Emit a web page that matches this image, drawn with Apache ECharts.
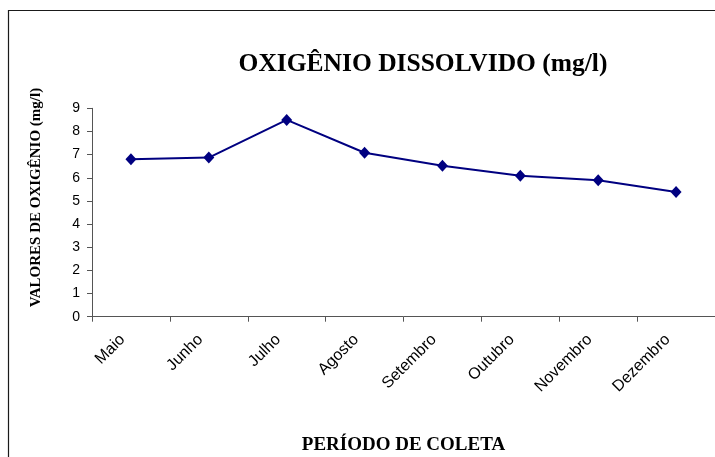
<!DOCTYPE html>
<html>
<head>
<meta charset="utf-8">
<script src="https://cdn.jsdelivr.net/npm/echarts@6/dist/echarts.min.js"></script>
<style>
html,body{margin:0;padding:0;background:#fff;}
#chart{width:715px;height:457px;}
</style>
</head>
<body>
<div id="chart"></div>
<script>
const categories = ["Maio", "Junho", "Julho", "Agosto", "Setembro", "Outubro", "Novembro", "Dezembro"];
const oxigenio = [6.8, 6.87, 8.5, 7.08, 6.52, 6.09, 5.89, 5.39];
const yTicks = [0, 1, 2, 3, 4, 5, 6, 7, 8, 9];
const chartTitle = "OXIGÊNIO DISSOLVIDO (mg/l)";
const yTitle = "VALORES DE OXIGÊNIO (mg/l)";
const xTitle = "PERÍODO DE COLETA";

const chart = echarts.init(document.getElementById('chart'), null, {renderer: 'canvas'});
chart.setOption({
  animation: false,
  backgroundColor: '#fff',
  graphic: [{
    type: 'rect',
    shape: {x: 8.5, y: 10.5, width: 800, height: 600},
    style: {fill: 'none', stroke: '#1a1a1a', lineWidth: 1.2},
    silent: true,
    z: -1
  }],
  title: {
    text: chartTitle,
    left: 418,
    top: 46,
    textAlign: 'center',
    textStyle: {
      fontFamily: 'Liberation Serif',
      fontWeight: 'bold',
      fontSize: 25.5,
      color: '#000'
    }
  },
  grid: {left: 92, top: 108.3, width: 627, height: 208.4},
  xAxis: {
    type: 'category',
    data: categories,
    boundaryGap: true,
    name: xTitle,
    nameLocation: 'middle',
    nameGap: 119,
    nameTextStyle: {fontFamily: 'Liberation Serif', fontWeight: 'bold', fontSize: 19, color: '#000'},
    axisLine: {lineStyle: {color: '#555', width: 1}},
    axisTick: {show: true, length: 5, inside: false, lineStyle: {color: '#555'}},
    axisLabel: {
      rotate: 45,
      margin: 12,
      padding: [0, 12, 0, 0],
      fontFamily: 'Liberation Sans',
      fontSize: 16,
      color: '#000',
      interval: 0
    },
    splitLine: {show: false}
  },
  yAxis: {
    type: 'value',
    min: yTicks[0],
    max: yTicks[yTicks.length - 1],
    interval: 1,
    name: yTitle,
    nameLocation: 'middle',
    nameRotate: 90,
    nameGap: 48,
    nameTextStyle: {fontFamily: 'Liberation Serif', fontWeight: 'bold', fontSize: 15, color: '#000', padding: [0, 0, 0, 30]},
    axisLine: {show: true, lineStyle: {color: '#555', width: 1}},
    axisTick: {show: true, length: 5, inside: false, lineStyle: {color: '#555'}},
    axisLabel: {margin: 12, fontFamily: 'Liberation Sans', fontSize: 14, color: '#000'},
    splitLine: {show: false}
  },
  series: [{
    type: 'line',
    data: oxigenio,
    symbol: 'diamond',
    symbolSize: [11, 12],
    lineStyle: {color: '#000080', width: 2},
    itemStyle: {color: '#000080'},
    label: {show: false}
  }]
});
</script>
</body>
</html>
